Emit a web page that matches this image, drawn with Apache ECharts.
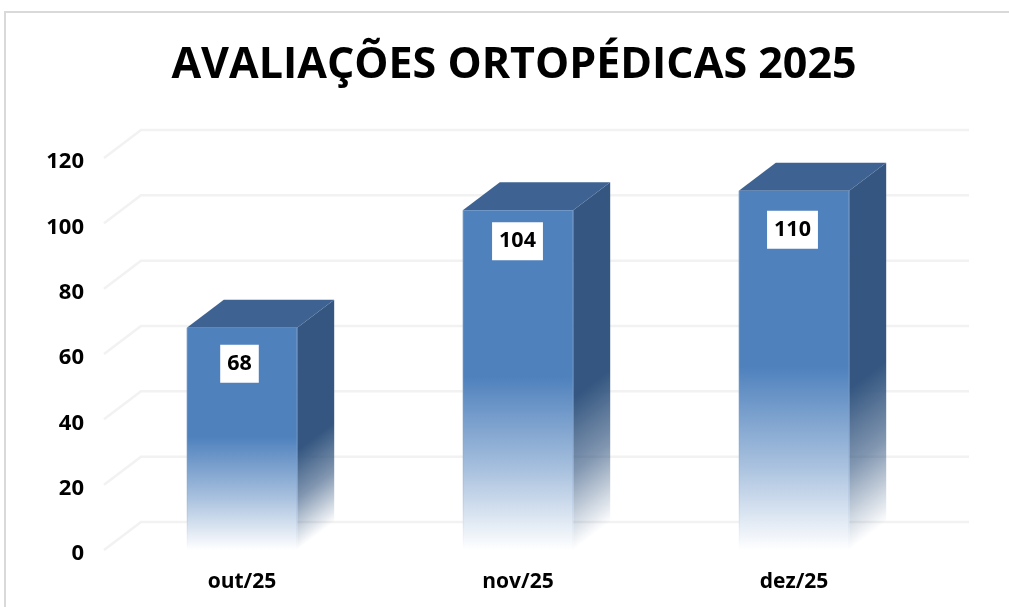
<!DOCTYPE html>
<html><head><meta charset="utf-8">
<style>html,body{margin:0;padding:0;background:#fff;overflow:hidden}#c{width:1009px;height:607px}</style>
<script src="https://cdn.jsdelivr.net/npm/echarts@6/dist/echarts.min.js"></script>
</head><body><div id="c"></div>
<script>
const titleText = 'AVALIAÇÕES ORTOPÉDICAS 2025';
const categories = ['out/25', 'nov/25', 'dez/25'];
const values = [68, 104, 110];
const yTicks = [0, 20, 40, 60, 80, 100, 120];
const labelNudge = [36, 31, 39];
const labelShift = [-2.5, -0.5, -1.5];

const DX = 37, DY = -28;
const FONT = '"Open Sans", "Noto Sans", sans-serif';
const chart = echarts.init(document.getElementById('c'), null, {renderer: 'canvas'});

function renderWall(params, api) {
  const r = params.coordSys;
  const y = api.coord([0, api.value(0)])[1];
  return {type: 'polyline', silent: true,
    shape: {points: [[r.x, y], [r.x + DX, y + DY], [r.x + r.width + DX, y + DY]]},
    style: {fill: 'none', stroke: '#f2f2f2', lineWidth: 2.5}};
}

function renderBar(params, api) {
  const i = api.value(0), v = api.value(1);
  const w = api.size([1, 0])[0] * 0.4;
  const cx = api.coord([i, 0])[0];
  const y0 = api.coord([i, 0])[1], y1 = api.coord([i, v])[1];
  const xl = cx - w / 2, xr = cx + w / 2, h = y0 - y1;
  const fadeY = y1 + h * 0.49;
  const len = Math.hypot(DX, DY), nx = -DY / len, ny = DX / len;
  const fadeLen = (y0 - fadeY) * ny;
  const sideGrad = new echarts.graphic.LinearGradient(
    xr, fadeY, xr + nx * fadeLen, fadeY + ny * fadeLen,
    [{offset: 0, color: '#345680'}, {offset: 0.12, color: '#345680'}, {offset: 0.55, color: 'rgba(52,86,128,0.62)'}, {offset: 1, color: 'rgba(52,86,128,0)'}], true);
  const frontGrad = new echarts.graphic.LinearGradient(0, y1, 0, y0,
    [{offset: 0, color: '#4f81bd'}, {offset: 0.49, color: '#4f81bd'}, {offset: 0.75, color: '#a3bddc'}, {offset: 1, color: '#ffffff'}], true);
  const edgeGrad = new echarts.graphic.LinearGradient(0, y1, 0, y0,
    [{offset: 0, color: 'rgba(130,160,200,0.6)'}, {offset: 0.85, color: 'rgba(130,160,200,0.2)'}, {offset: 1, color: 'rgba(130,160,200,0)'}], true);
  return {type: 'group', silent: true, children: [
    {type: 'polygon', shape: {points: [[xr, y1], [xr + DX, y1 + DY], [xr + DX, y0 + DY], [xr, y0]]},
      style: {fill: sideGrad}},
    {type: 'polygon', shape: {points: [[xl, y1], [xl + DX, y1 + DY], [xr + DX, y1 + DY], [xr, y1]]},
      style: {fill: '#3e6392'}},
    {type: 'rect', shape: {x: xl, y: y1, width: w, height: h}, style: {fill: frontGrad}},
    {type: 'line', shape: {x1: xl + .5, y1: y1, x2: xl + .5, y2: y0}, style: {stroke: edgeGrad, lineWidth: 1}},
    {type: 'line', shape: {x1: xr - .5, y1: y1, x2: xr - .5, y2: y0}, style: {stroke: edgeGrad, lineWidth: 1}},
    {type: 'text', style: {text: String(v), x: cx + labelShift[i], y: y1 + labelNudge[i], align: 'center', verticalAlign: 'middle',
      font: 'bold 21.5px ' + FONT, fill: '#000', backgroundColor: '#fff', padding: [9, 7, 7, 7]}}
  ]};
}

chart.setOption({
  animation: false,
  backgroundColor: '#fff',
  title: {text: titleText, left: 509, top: 39, textAlign: 'center',
    textStyle: {fontFamily: FONT, fontWeight: 'bold', fontSize: 43, color: '#000'}},
  grid: {left: 104, right: 77, top: 158, bottom: 57},
  xAxis: {type: 'category', data: categories, axisLine: {show: false}, axisTick: {show: false},
    axisLabel: {color: '#000', fontFamily: FONT, fontWeight: 'bold', fontSize: 21, margin: 22}},
  yAxis: {type: 'value', min: 0, max: 120, interval: 20, splitLine: {show: false}, axisLine: {show: false}, axisTick: {show: false},
    axisLabel: {color: '#000', fontFamily: FONT, fontWeight: 'bold', fontSize: 22, margin: 20, verticalAlign: 'top', lineHeight: 8}},
  graphic: [{type: 'polyline', silent: true, shape: {points: [[5, 607], [5, 12], [1009, 12]]},
    style: {fill: 'none', stroke: '#d9d9d9', lineWidth: 2}}],
  series: [
    {type: 'custom', renderItem: renderWall, data: yTicks.map(t => [t]), encode: {y: 0}, silent: true, z: 1},
    {type: 'custom', renderItem: renderBar, data: values.map((v, i) => [i, v]), encode: {x: 0, y: 1}, silent: true, z: 2}
  ]
});
</script></body></html>
